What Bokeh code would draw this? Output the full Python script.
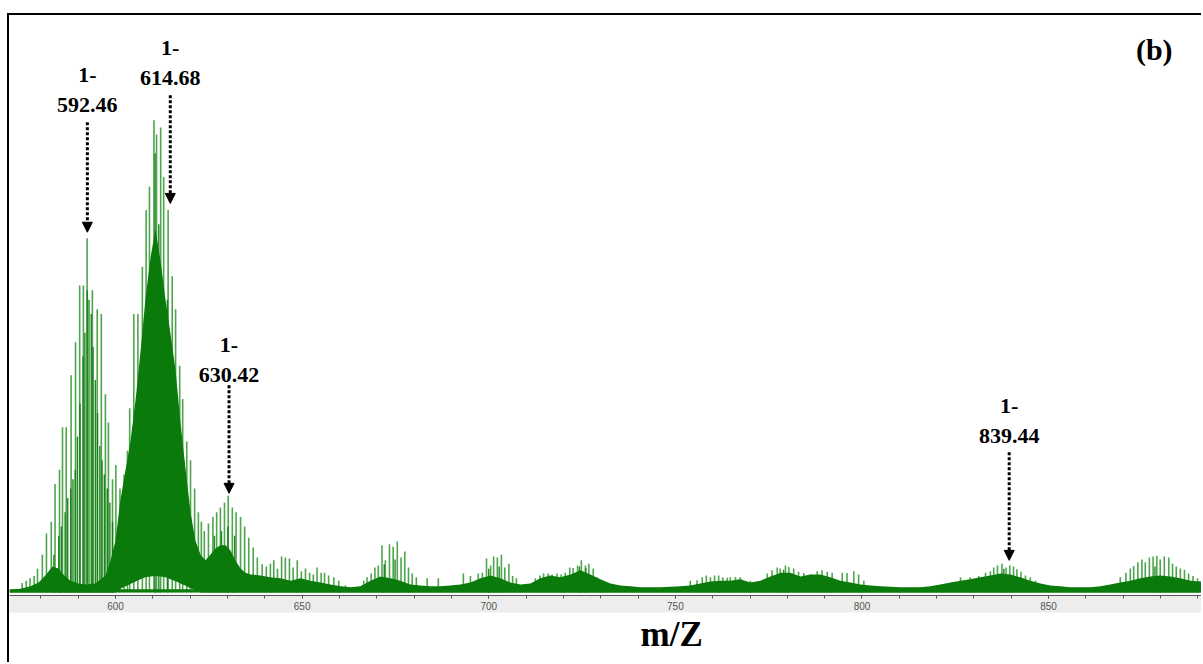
from bokeh.plotting import figure
from bokeh.models import (Range1d, LinearAxis, SingleIntervalTicker, Arrow, NormalHead,
                          ColumnDataSource, Label, Title)
from bokeh.core.properties import value
from bokeh.embed import file_html
from bokeh.resources import INLINE

# ---------------- data (m/z, relative intensity %) ----------------
light_mz = [575.0, 576.1, 577.1, 578.2, 579.1, 580.4, 581.5, 582.8, 583.8, 585.0, 585.8, 586.8,
            588.1, 589.3, 590.4, 591.4, 592.4, 593.8, 595.1, 596.2, 597.3, 598.1, 599.2, 600.1,
            601.2, 602.3, 603.2, 603.8, 604.9, 606.0, 607.2, 608.2, 609.1, 610.3, 611.0, 612.1,
            612.9, 614.1, 615.2, 616.1, 617.2, 618.0, 619.1, 620.1, 621.2, 622.2, 623.0, 623.8,
            624.9, 626.1, 627.1, 628.1, 629.2, 630.2, 631.3, 632.3, 633.5, 634.6, 635.7, 636.9,
            638.0, 639.3, 640.4, 641.5, 642.4, 643.4, 644.5, 645.5, 646.6, 647.6, 648.7, 649.8,
            650.9, 652.0, 653.0, 654.0, 655.1, 656.0, 657.1, 658.5, 659.8, 661.6,
            666.5, 667.4, 668.5, 669.5, 670.4, 671.4, 672.3, 673.4, 674.4, 675.5, 676.5, 677.5,
            678.5, 679.5, 680.6, 683.5, 686.5,
            693.2, 695.1, 697.2, 698.3, 699.4, 700.5, 701.3, 702.3, 703.4, 704.3, 705.4, 706.4, 707.4,
            712.5, 713.7, 714.7, 715.9, 717.0, 718.3, 719.4, 720.5, 721.7, 722.6, 723.8, 724.8,
            725.9, 726.8, 728.0, 729.0, 730.4,
            754.0, 755.8, 757.2, 758.3, 759.4, 760.5, 761.6, 762.7, 763.9, 764.7, 766.1, 767.4,
            770.1, 773.2, 774.6, 775.9, 777.3, 778.1, 779.5, 780.4, 781.7, 783.0, 784.4, 786.2,
            788.0, 789.3, 790.7, 792.0, 794.7, 796.0, 797.8, 799.1, 800.5,
            826.4, 829.0, 831.3, 833.1, 834.4, 835.3, 836.3, 837.5, 838.6, 839.6, 840.6, 841.5,
            842.6, 843.8, 845.1, 846.5,
            869.2, 870.7, 871.9, 872.8, 873.9, 875.0, 875.9, 877.0, 878.0, 879.0, 879.9, 881.0,
            882.2, 883.2, 884.2, 885.3, 886.4, 887.5, 888.7, 889.9, 891.1]
light_int = [2.0, 2.5, 3.0, 3.5, 5, 8, 12.5, 15, 23, 26, 35, 35,
             46, 53, 65, 65, 75, 64, 60, 59, 42, 36, 24, 27,
             22, 25, 30, 39, 59, 59, 69, 81, 86, 100, 97, 98.5,
             88, 81, 67, 60, 48, 41, 32, 28, 22, 17, 15, 13,
             14.6, 16, 17, 18, 19, 20.5, 18, 17, 16, 14, 11.6, 9.5,
             7.4, 6, 5.5, 6.1, 6.8, 5, 7.6, 7.4, 7.2, 5.3, 6.8, 4.5,
             5.1, 4.2, 3.8, 5.3, 4.2, 4.2, 3.6, 3.2, 2.5, 1.5,
             2.5, 3.2, 4, 5.3, 5.7, 10, 6.8, 10.2, 9.7, 10.8, 7.4, 8.7,
             5.3, 4, 3.2, 3, 3,
             4, 3.5, 4, 4.2, 7.2, 5.7, 7.6, 7.4, 8, 5.3, 6.1, 3.5, 3,
             3, 3.6, 4, 4, 3.8, 4, 3.8, 4.2, 5.3, 5.2, 5.7, 6.8,
             5.7, 6.1, 5.1, 3.2, 2.5,
             2.5, 2.6, 3.2, 3.6, 3.2, 3.6, 3.6, 3.2, 3.1, 3.2, 3.3, 3.2,
             2.5, 2.5, 4, 4.7, 5.3, 5.1, 5.7, 5.4, 5.1, 4.4, 4.1, 3.8,
             4.5, 4.7, 4.4, 4.2, 4.2, 4.1, 4.5, 3.8, 2.5,
             3.2, 3.2, 3.5, 4.2, 4.5, 5.3, 5.7, 6.1, 5.3, 5.7, 5.5, 4.9,
             4.4, 3.6, 3.2, 2.5,
             3.2, 4.2, 5.1, 5.6, 6.4, 7, 6.4, 7.4, 7.6, 7.8, 7, 7.6,
             7.4, 6.1, 5.5, 5.1, 4.8, 4, 3.5, 3, 2.8]

dark_mz = [583.5, 584.8, 585.5, 586.5, 587.2, 588.0, 588.6, 589.2, 589.8, 590.5, 591.3, 591.8,
           592.4, 592.9, 593.5, 594.0, 594.6, 595.2, 595.8, 596.4, 597.0, 597.8, 598.5, 599.2,
           610.6, 611.6, 613.9, 626.5, 628.4, 630.1, 631.9, 672.0, 674.9, 700.0, 702.8,
           724.3, 726.0, 779.0, 838.0, 878.5]
dark_int = [8, 12, 14, 17, 20, 22, 24, 26, 33, 40, 50, 55,
            64, 62, 59, 52, 45, 38, 31, 28, 25, 22, 19, 15,
            93, 78, 62, 12, 13, 14, 12, 6, 7, 5, 5.5,
            5.5, 5.2, 4.8, 5, 5.5]

# dense unresolved signal: upper envelope and lower edge
fill_mz = [571.6, 574.6, 577.2, 579.4, 581.2, 583.1, 584.7, 586.3, 587.9, 590.1, 592.2, 594.6,
           597.3, 598.7, 600.0, 601.3, 602.7, 604.0, 605.4, 606.7, 608.0, 609.4, 610.7, 612.1,
           613.4, 614.7, 616.1, 617.4, 618.8, 620.1, 621.4, 622.8, 624.1, 625.4, 626.8, 628.1,
           629.5, 630.8, 632.1, 633.5, 634.8, 636.2, 638.8, 641.5, 644.2, 646.9, 649.6, 652.2,
           654.9, 657.6, 660.3, 663.0, 665.6, 668.3, 671.0, 673.7, 676.3, 679.0, 681.7, 684.4,
           687.1, 689.7, 692.4, 695.1, 697.8, 700.5, 703.1, 705.8, 708.5, 711.2, 713.8, 716.5,
           719.2, 721.9, 724.6, 727.2, 729.9, 732.6, 735.3, 738.0, 740.6, 746.0, 751.4, 754.0,
           756.7, 759.4, 762.1, 764.7, 767.4, 770.1, 772.8, 775.5, 778.2, 780.8, 783.5, 786.2,
           788.9, 791.5, 794.2, 796.9, 799.6, 802.3, 804.9, 810.3, 815.6, 818.3, 821.0, 823.7,
           826.4, 829.0, 831.7, 834.4, 837.1, 839.8, 842.4, 845.1, 847.8, 850.5, 853.1, 855.8,
           861.2, 863.9, 866.5, 869.2, 871.9, 874.6, 877.3, 879.9, 882.6, 885.3, 888.0, 891.5]
fill_hi = [0.6, 0.8, 1.3, 2.1, 3.6, 5.5, 5.1, 3.6, 2.5, 1.9, 1.7, 1.9,
           3.6, 6.8, 11, 19.5, 26, 32, 41, 51, 62, 71, 77, 70,
           62, 55, 47, 36, 26, 17, 11, 8, 6.8, 8, 9.3, 10,
           10, 8.9, 6.8, 5.1, 4.2, 3.8, 3.6, 3.2, 3, 2.5, 3, 2.5,
           2.1, 1.7, 1.3, 1.1, 1.3, 2.5, 3.4, 3, 2.5, 1.7, 1.5, 1.3,
           1.3, 1.5, 1.7, 2.1, 3, 3.6, 3, 2.1, 1.7, 1.9, 3, 3.6,
           3.2, 3.8, 4.7, 3.8, 2.8, 1.9, 1.5, 1.3, 1.1, 1.1, 1.3, 1.5,
           1.9, 2.3, 2.5, 2.5, 2.8, 2.1, 2.5, 3.4, 4.2, 4.2, 3.4, 3.8,
           3.8, 3.2, 2.5, 2.1, 1.7, 1.5, 1.3, 1.1, 1.1, 1.3, 1.7, 2.1,
           2.5, 2.8, 3.2, 3.6, 4, 3.8, 3.2, 2.5, 1.9, 1.5, 1.3, 1.1,
           1.1, 1.3, 1.7, 2.1, 2.5, 3, 3.4, 3.6, 3.4, 3, 2.5, 2.3]
fill_lo = [0, 0, 0, 0, 0, 0, 0, 0, 0, 0, 0, 0,
           0, 0, 0, 0.8, 1.3, 1.8, 2.3, 2.8, 3.2, 3.4, 3.5, 3.4,
           3.2, 2.8, 2.4, 1.9, 1.4, 0.9, 0.5, 0, 0, 0, 0, 0,
           0, 0, 0, 0, 0, 0, 0, 0, 0, 0, 0, 0,
           0, 0, 0, 0, 0, 0, 0, 0, 0, 0, 0, 0,
           0, 0, 0, 0, 0, 0, 0, 0, 0, 0, 0, 0,
           0, 0, 0, 0, 0, 0, 0, 0, 0, 0, 0, 0,
           0, 0, 0, 0, 0, 0, 0, 0, 0, 0, 0, 0,
           0, 0, 0, 0, 0, 0, 0, 0, 0, 0, 0, 0,
           0, 0, 0, 0, 0, 0, 0, 0, 0, 0, 0, 0,
           0, 0, 0, 0, 0, 0, 0, 0, 0, 0, 0, 0]
base_mz = [571.6, 891.5]
base_int = [0.7, 0.7]

ann_mz = [592.46, 614.68, 630.42, 839.44]
ann_text = ["1-\n592.46", "1-\n614.68", "1-\n630.42", "1-\n839.44"]

# ---------------- layout constants ----------------
ann_text_top = [112.3, 118.0, 55.1, 42.2]
ann_arrow_top = [99.6, 105.3, 43.9, 29.7]
ann_arrow_tip = [76.3, 82.4, 21.0, 6.8]

LIGHT = "#2f952f"
DARK = "#0a7a0a"
SERIF = "Liberation Serif"

p = figure(width=1194, height=649, output_backend="svg", toolbar_location=None,
           x_range=Range1d(571.6, 891.5), y_range=Range1d(-0.64, 122.2),
           x_axis_location=None, y_axis_location=None,
           min_border_left=0, min_border_right=0, min_border_top=0, min_border_bottom=69)
p.grid.visible = False
p.outline_line_color = None
p.background_fill_color = "white"
p.border_fill_color = "white"
p.styles = {"margin-left": "7px", "margin-top": "13px",
            "border-left": "2px solid black", "border-top": "2px solid black"}

light_src = ColumnDataSource(dict(mz=light_mz, h=light_int))
dark_src = ColumnDataSource(dict(mz=dark_mz, h=dark_int))

p.segment(x0="mz", y0=0, x1="mz", y1="h", source=light_src, line_color=LIGHT,
          line_width=1.6, line_alpha=0.85)
p.varea(x=base_mz, y1=[0, 0], y2=base_int, fill_color=DARK)
p.varea(x=fill_mz, y1=fill_lo, y2=fill_hi, fill_color=DARK)
p.segment(x0="mz", y0=0, x1="mz", y1="h", source=dark_src, line_color=DARK,
          line_width=1.4, line_alpha=0.9)

# annotations
ann_src = ColumnDataSource(dict(x=ann_mz, y=ann_text_top, t=ann_text))
p.text(x="x", y="y", text="t", source=ann_src, text_align="center", text_baseline="top",
       text_font=value(SERIF), text_font_style="bold", text_font_size="22px",
       text_color="black", text_line_height=1.2)
for x, y0, y1 in zip(ann_mz, ann_arrow_top, ann_arrow_tip):
    p.add_layout(Arrow(end=NormalHead(size=10, fill_color="black", line_color="black", line_width=1),
                       x_start=x, y_start=y0, x_end=x, y_end=y1,
                       line_color="black", line_width=3, line_dash="3 2"))

p.add_layout(Label(x=878.3, y=118.4, text="(b)", text_align="center", text_baseline="top",
                   text_font=SERIF, text_font_style="bold", text_font_size="30px",
                   text_color="black"))

# x axis with grey band
ax = LinearAxis(ticker=SingleIntervalTicker(interval=50, num_minor_ticks=5))
ax.axis_line_color = "#555555"
ax.major_tick_line_color = "#555555"
ax.minor_tick_line_color = "#555555"
ax.major_tick_out = 3
ax.major_tick_in = 0
ax.minor_tick_out = 3
ax.minor_tick_in = 0
ax.major_label_text_font = "Liberation Sans"
ax.major_label_text_font_size = "10px"
ax.major_label_text_color = "#555555"
ax.major_label_standoff = 3
ax.background_fill_color = "#ededed"
p.add_layout(ax, "below")

# x-axis title, placed where the reference has it
p.add_layout(Title(text="m/Z", align="left", offset=631, standoff=0, text_line_height=0.75,
                   text_font=SERIF, text_font_style="bold", text_font_size="35px",
                   text_color="black"), "below")

open("out.html", "w").write(file_html(p, INLINE))
